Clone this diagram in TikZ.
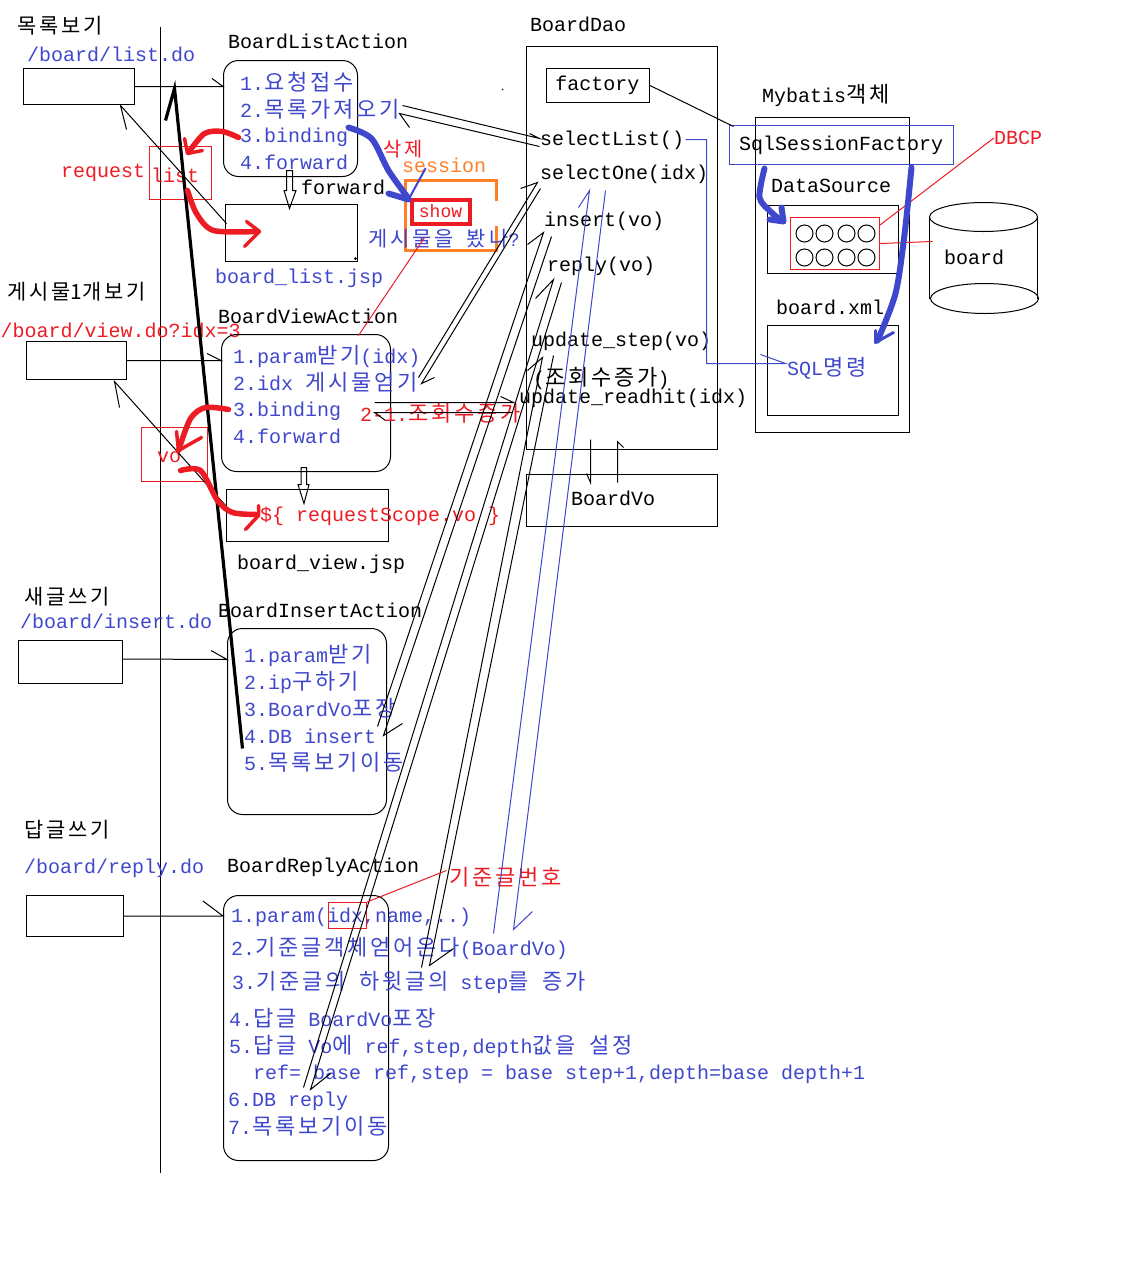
\documentclass[tikz,border=0pt]{standalone}
\usepackage{fontspec}
\setmainfont{Liberation Mono}
\newfontfamily\cjk[Scale=1.1]{Noto Sans CJK KR}
% wider gaps between Hangul letters
\XeTeXinterchartokenstate=1
\newXeTeXintercharclass\hangulclass
\count255="AC00
\loop
	\XeTeXcharclass\count255=\hangulclass
	\ifnum\count255<"D7A3
	\advance\count255 by 1
\repeat
\XeTeXinterchartoks\hangulclass\hangulclass={\kern2.8pt\relax}
\newcommand{\ko}[1]{{\cjk\spaceskip=13.5pt\relax #1}}
\usetikzlibrary{positioning}

\definecolor{penblue}{HTML}{3F48CC}
\definecolor{penred}{HTML}{ED1C24}
\definecolor{penorange}{HTML}{FF7F27}

\tikzset{
	txt/.style={anchor=base west,inner sep=0pt,xshift=-0.5pt,font=\fontsize{20}{24}\selectfont},
	titletxt/.style={txt,font=\fontsize{19}{24}\selectfont},
	bluetxt/.style={txt,text=penblue},
	redtxt/.style={txt,text=penred},
	box/.style={draw,line width=1pt,inner sep=0pt},
	actionbox/.style={box,rounded corners=15pt},
	redbox/.style={box,draw=penred},
	conn/.style={line width=1pt},
	blueconn/.style={conn,draw=penblue},
	redconn/.style={conn,draw=penred},
	redpen/.style={draw=penred,line width=5.5pt,line cap=round,line join=round},
	bluepen/.style={draw=penblue,line width=6pt,line cap=round,line join=round}
}

\begin{document}
\begin{tikzpicture}[x=1pt,y=-1pt]
\useasboundingbox (-0.5,-0.5) rectangle (1135.5,1271.5);

\draw [conn] (160,26) -- (160,1172);

% browser side
\node [box,minimum width=111pt,minimum height=36pt] (listweb) at (78.5,86) {};
\node [box,minimum width=100pt,minimum height=38pt] (viewweb) at (76,360) {};
\node [box,minimum width=104pt,minimum height=43pt] (insertweb) at (70,661.5) {};
\node [box,minimum width=97pt,minimum height=41pt] (replyweb) at (74.5,915.5) {};

\node [titletxt] (listtitle) at (17,33) {\ko{목록보기}};
\node [bluetxt] (listurl) at (27,61) {/board/list.do};
\node [titletxt] (viewtitle) at (7,299) {\ko{게시물1개보기}};
\node [redtxt] (viewurl) at (0.5,337) {/board/view.do?idx=3};
\node [titletxt] (inserttitle) at (24,604) {\ko{새글쓰기}};
\node [bluetxt] (inserturl) at (20,628) {/board/insert.do};
\node [titletxt] (replytitle) at (24,837) {\ko{답글쓰기}};
\node [bluetxt] (replyurl) at (24,873) {/board/reply.do};

% actions
\node [actionbox,minimum width=134pt,minimum height=116pt] (listact) at (290,118) {};
\node [actionbox,minimum width=169pt,minimum height=137pt] (viewact) at (305.5,402.5) {};
\node [actionbox,minimum width=159pt,minimum height=186pt] (insertact) at (306.5,721) {};
\node [actionbox,minimum width=165pt,minimum height=265pt] (replyact) at (305.5,1027.5) {};

\node [txt] (listname) at (228,48) {BoardListAction};
\node [bluetxt] (list1) at (240,90) {1.\ko{요청접수}};
\node [bluetxt] (list2) at (240,117) {2.\ko{목록가져오기}};
\node [bluetxt] (list3) at (240,142) {3.binding};
\node [bluetxt] (list4) at (240,169) {4.forward};

\node [txt] (viewname) at (218,323) {BoardViewAction};
\node [bluetxt] (view1) at (233,363) {1.param\ko{받기}(idx)};
\node [bluetxt] (view2) at (233,390) {2.idx \ko{게시물얻기}};
\node [bluetxt] (view3) at (233,416) {3.binding};
\node [bluetxt] (view4) at (233,443) {4.forward};

\node [txt] (insertname) at (218,617) {BoardInsertAction};
\node [bluetxt] (insert1) at (244,662) {1.param\ko{받기}};
\node [bluetxt] (insert2) at (244,689) {2.ip\ko{구하기}};
\node [bluetxt] (insert3) at (244,716) {3.BoardVo\ko{포장}};
\node [bluetxt] (insert4) at (244,743) {4.DB insert};
\node [bluetxt] (insert5) at (244,770) {5.\ko{목록보기이동}};

\node [txt] (replyname) at (227,872) {BoardReplyAction};
\node [bluetxt] (reply1) at (231,922) {1.param(idx,name,..)};
\node [bluetxt] (reply2) at (231,955) {2.\ko{기준글객체얻어온다}(BoardVo)};
\node [bluetxt] (reply3) at (232,989) {3.\ko{기준글의 하윗글의} step\ko{를 증가}};
\node [bluetxt] (reply4) at (229,1026) {4.\ko{답글} BoardVo\ko{포장}};
\node [bluetxt] (reply5) at (229,1053) {5.\ko{답글} Vo\ko{에} ref,step,depth\ko{값을 설정}};
\node [bluetxt] (reply5b) at (253,1079) {ref= base ref,step = base step+1,depth=base depth+1};
\node [bluetxt] (reply6) at (228,1106) {6.DB reply};
\node [bluetxt] (reply7) at (228,1134) {7.\ko{목록보기이동}};

% jsp
\node [box,minimum width=132pt,minimum height=57pt] (listjsp) at (291,232.5) {};
\node [box,minimum width=162pt,minimum height=52pt] (viewjsp) at (307,515) {};
\node [bluetxt] (listjspname) at (215,283) {board\_list.jsp};
\node [txt] (viewjspname) at (237,569) {board\_view.jsp};
\node [txt] (fwdlabel) at (301,194) {forward};
\node [redtxt] (viewexpr) at (260,521) {\$\{ requestScope.vo \}};

% scopes
\node [redbox,minimum width=62pt,minimum height=53pt] (listscope) at (180,172.5) {};
\node [redbox,minimum width=66pt,minimum height=54pt] (voscope) at (174,454) {};
\node [redbox,minimum width=38pt,minimum height=26pt] (idxbox) at (347,915) {};
\node [redtxt] (reqlabel) at (61,177) {request};
\node [redtxt] (listlabel) at (151,182) {list};
\node [redtxt] (volabel) at (157,462) {vo};
\node [redtxt] (hitlabel) at (360,421) {2-1.\ko{조회수증가}};
\node [redtxt] (baselabel) at (449,885) {\ko{기준글번호}};

% session
\node [redtxt,font=\fontsize{18}{24}\selectfont] (dellabel) at (383,156) {\ko{삭제}};
\node [txt,text=penorange] (seslabel) at (402,172) {session};
\draw [draw=penorange,line width=3pt] (496,200) -- (496,180) -- (405,180) -- (405,250) -- (496,250) -- (496,225);
\node [draw=penred,line width=4pt,minimum width=58pt,minimum height=24pt,inner sep=0pt,
	text=penred,font=\fontsize{18}{20}\selectfont] (showbox) at (440,211) {show};
\node [bluetxt,font=\fontsize{19}{24}\selectfont] (seenlabel) at (368,246) {\ko{게시물을 봤나}?};

% dao
\node [box,minimum width=191pt,minimum height=403pt] (dao) at (621.5,247.5) {};
\node [box,minimum width=191pt,minimum height=52pt] (vobox) at (621.5,500) {};
\node [box,minimum width=103pt,minimum height=34pt] (factory) at (597.5,85) {};
\node [txt] (daoname) at (530,31) {BoardDao};
\node [txt] at (factory) [anchor=center] (factorylabel) {factory};
\node [txt] (sellist) at (540,145) {selectList()};
\node [txt] (selone) at (540,179) {selectOne(idx)};
\node [txt] (insvo) at (544,226) {insert(vo)};
\node [txt] (repvo) at (547,271) {reply(vo)};
\node [txt] (updstep) at (531,346) {update\_step(vo)};
\node [txt] (hitnote) at (533,385) {(\ko{조회수증가})};
\node [txt] (updhit) at (519,403) {update\_readhit(idx)};
\node [txt] (volabel2) at (571,505) {BoardVo};

% mybatis
\node [box,minimum width=154pt,minimum height=315pt] (mybatis) at (832,274.5) {};
\node [box,draw=penblue,minimum width=224pt,minimum height=39pt] (ssf) at (841,144.5) {};
\node [box,minimum width=131pt,minimum height=68pt] (dsbox) at (832.5,239) {};
\node [redbox,minimum width=89pt,minimum height=52pt] (pool) at (834.5,243) {};
\node [box,minimum width=131pt,minimum height=90pt] (xmlbox) at (832.5,370) {};
\node [txt] (mbname) at (762,102) {Mybatis\ko{객체}};
\node [txt] (ssflabel) at (739,150) {SqlSessionFactory};
\node [txt] (dsname) at (771,192) {DataSource};
\node [txt] (xmlname) at (776,314) {board.xml};
\node [bluetxt] (sqllabel) at (787,375) {SQL\ko{명령}};
\node [redtxt] (dbcp) at (994,144) {DBCP};
\foreach \x in {804,824,846,866}
	\foreach \y in {233,257}
		\draw [conn] (\x,\y) circle (8.5pt);

% table
\draw [conn] (929,216) -- (929,298);
\draw [conn] (1037,216) -- (1037,298);
\draw [conn] (983,216.5) ellipse [x radius=54pt,y radius=14.5pt];
\draw [conn] (984,298) ellipse [x radius=54pt,y radius=15pt];
\node [txt] (tablename) at (944,264) {board};
\coordinate (tableleft) at (932,241);
\draw [redconn] (pool.east) -- (tableleft);
\draw [redconn] (pool.north east) ++(0,8) -- (dbcp.west);

% request lines
\draw [conn] (listweb.east) -- (listweb.east -| listact.west) -- +(-11,-8);
\draw [conn] (viewweb.east) -- (viewweb.east -| viewact.west) -- +(-14,-7);
\draw [conn] (insertweb.east) ++(0,-3) -- (insertact.west |- 0,659) -- +(-16,-9);
\draw [conn] (replyweb.east) -- (replyweb.east -| replyact.west) -- +(-20,-15);

% back to browser
\coordinate (listback) at (120,105);
\coordinate (listfrom) at (226,223);
\coordinate (viewback) at (114,381);
\coordinate (viewfrom) at (226,506);
\draw [conn] (listfrom) -- (listback) -- +(6,24);
\draw [conn] (viewfrom) -- (viewback) -- +(5,26);

% forward arrows
\draw [conn] (286,170) -- (292,170) -- (292,190) -- (295.5,190) -- (289,208) -- (283.5,190) -- (286,190) -- cycle;
\draw [conn] (300.5,467) -- (306,467) -- (306,484) -- (308.5,484) -- (303.5,503) -- (297.5,484) -- (300.5,484) -- cycle;

% call lines
\coordinate (l1a) at (402,105);
\coordinate (l1b) at (539,138);
\coordinate (l2a) at (399,113);
\coordinate (l2b) at (539,146);
\draw [conn] (l1a) -- (l1b) -- +(-10,-5);
\draw [conn] (l2b) -- (l2a) -- +(10,14);

\coordinate (v1a) at (418,377);
\coordinate (v1b) at (537,182);
\coordinate (v2a) at (421,383);
\coordinate (v2b) at (540,188);
\draw [conn] (v1a) -- (v1b) -- +(-17,6);
\draw [conn] (v2b) -- (v2a) -- +(13,-6);

\coordinate (h1a) at (374,402);
\coordinate (h1b) at (513,402);
\coordinate (h2a) at (374,412);
\coordinate (h2b) at (512,412);
\draw [conn] (h1a) -- (h1b) -- +(-13,-6);
\draw [conn] (h2b) -- (h2a) -- +(11,8);

\coordinate (i1a) at (543,232);
\coordinate (i1b) at (377,726);
\coordinate (i2a) at (551,236);
\coordinate (i2b) at (383,735);
\draw [conn] (i1b) -- (i1a) -- +(-16,12);
\draw [conn] (i2a) -- (i2b) -- +(19,-12);

\coordinate (r1a) at (553,279);
\coordinate (r1b) at (303,1087);
\coordinate (r2a) at (561,282);
\coordinate (r2b) at (310,1089);
\draw [conn] (r1b) -- (r1a) -- +(-18,19);
\draw [conn] (r2a) -- (r2b) -- +(20,-16);

\coordinate (u1a) at (542,357);
\coordinate (u1b) at (421,967);
\coordinate (u2a) at (553,355);
\coordinate (u2b) at (429,965);
\draw [conn] (u1b) -- (u1a) -- +(-15,13);
\draw [conn] (u2a) -- (u2b) -- +(24,-17);

\coordinate (b1a) at (589,190);
\coordinate (b1b) at (493,933);
\coordinate (b2a) at (605,190);
\coordinate (b2b) at (513,929);
\draw [blueconn] (b1b) -- (b1a) -- +(-11,17);
\draw [blueconn] (b2a) -- (b2b) -- +(19,-18);

\coordinate (vo1a) at (590,439);
\coordinate (vo1b) at (590,482);
\coordinate (vo2a) at (617,482);
\coordinate (vo2b) at (617,441);
\draw [conn] (vo1a) -- (vo1b) -- +(-4,-9);
\draw [conn] (vo2a) -- (vo2b) -- +(6,6);

% other thin lines
\coordinate (factoryto) at (733,126);
\coordinate (sqlbend) at (706,139);
\coordinate (sellistend) at (685,139);
\coordinate (sqlto) at (785,363);
\coordinate (hintstart) at (358,335);
\coordinate (hintend) at (424,237);
\coordinate (baseend) at (446,870);
\draw [conn] (factory.east) -- (factoryto);
\draw [blueconn] (sellistend) -- (sqlbend) -- (sqlbend |- sqlto) -- (sqlto) -- +(-25,-9);
\draw [redconn] (hintstart) -- (hintend);
\draw [redconn] (idxbox.north east) -- (baseend);

% thick line
\coordinate (backtop) at (174,88);
\coordinate (backend) at (242,748);
\draw [line width=3.2pt] (backend) -- (backtop) -- +(-9,32);

% red pen
\draw [redpen] plot [smooth] coordinates {(238,137) (222,131) (204,133) (188,152)};
\draw [redpen,line width=3.5pt] (184,138) -- (187,153) -- (202,150);
\draw [redpen] plot [smooth] coordinates {(187,190) (196,213) (213,230) (256,231)};
\draw [redpen,line width=3.5pt] (246,221) -- (259,231) -- (244,246);
\draw [redpen] plot [smooth] coordinates {(228,409) (205,407) (190,418) (178,450)};
\draw [redpen,line width=3.5pt] (176,431) -- (178,450) -- (201,437);
\draw [redpen] plot [smooth] coordinates {(180,470) (200,470) (217,500) (232,512) (256,514)};
\draw [redpen,line width=3.5pt] (258,505) -- (258,515) -- (245,529);

% blue pen
\draw [bluepen] plot [smooth] coordinates {(348,127) (371,138) (388,170) (408,198)};
\draw [bluepen] (388,193) -- (408,199);
\draw [bluepen,line width=2pt] (408,199) -- (425,168);
\draw [bluepen] plot [smooth] coordinates {(764,168) (759,197) (771,212) (781,220)};
\draw [bluepen] (769,219) -- (783,221) -- (781,207);
\draw [bluepen] plot [smooth] coordinates {(911,167) (904,234) (895,293) (877,340)};
\draw [bluepen,line width=3pt] (893,332) -- (875,342) -- (875,330);

% stray marks
\fill (502,89) circle (0.8pt);
\fill (355,258) circle (1.5pt);
\end{tikzpicture}
\end{document}
